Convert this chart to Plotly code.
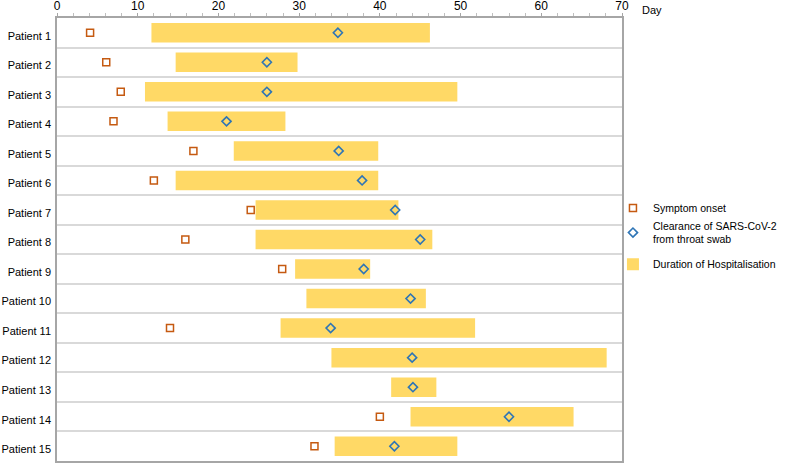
import plotly.graph_objects as go

patients = [f"Patient {i}" for i in range(1, 16)]
symptom_onset = [4.1, 6.1, 7.9, 7.0, 16.9, 12.0, 24.0, 15.9, 27.9, None, 14.0, None, None, 40.0, 31.9]
hosp_start = [11.7, 14.7, 10.9, 13.7, 21.9, 14.7, 24.6, 24.6, 29.5, 30.9, 27.7, 34.0, 41.4, 43.8, 34.4]
hosp_end = [46.2, 29.8, 49.6, 28.3, 39.8, 39.8, 42.3, 46.5, 38.8, 45.7, 51.8, 68.1, 47.0, 64.0, 49.6]
clearance = [34.8, 26.0, 26.0, 21.0, 34.9, 37.8, 41.9, 45.0, 38.0, 43.8, 33.9, 44.0, 44.1, 56.0, 41.8]

idx = list(range(len(patients)))
FONT = "Liberation Sans, Arial, sans-serif"

fig = go.Figure()
fig.add_trace(go.Bar(
    orientation="h", y=idx, base=hosp_start,
    x=[e - s for s, e in zip(hosp_start, hosp_end)],
    width=0.66, marker=dict(color="#FFD966", line=dict(width=0)),
    name="Duration of Hospitalisation", legendrank=3, legendgroup="b",
))
fig.add_trace(go.Scatter(
    x=symptom_onset, y=idx, mode="markers",
    marker=dict(symbol="square-open", size=7, color="#C55A11", line=dict(width=1.5)),
    name="Symptom onset", legendrank=1, legendgroup="a",
))
fig.add_trace(go.Scatter(
    x=clearance, y=idx, mode="markers",
    marker=dict(symbol="diamond-open", size=7, color="#2E75B6", line=dict(width=1.6)),
    name="Clearance of SARS-CoV-2<br>from throat swab", legendrank=2, legendgroup="a",
))

fig.update_layout(
    width=785, height=464,
    margin=dict(l=57, r=161, t=18, b=3),
    plot_bgcolor="white", paper_bgcolor="white",
    font=dict(family=FONT, size=11, color="#000000"),
    showlegend=True,
    legend=dict(
        x=0.984, y=0.604, xanchor="left", yanchor="top",
        font=dict(size=10.5, family=FONT), traceorder="grouped",
        tracegroupgap=7, bgcolor="rgba(0,0,0,0)",
    ),
)
fig.update_xaxes(
    side="top", range=[0, 70], tickvals=[0, 10, 20, 30, 40, 50, 60, 70],
    showgrid=False, zeroline=False, automargin=False,
    showline=True, linecolor="#A6A6A6", linewidth=1.5, mirror=True,
    ticks="outside", ticklen=3, tickcolor="#A6A6A6",
    minor=dict(dtick=2, ticks="outside", ticklen=3, tickcolor="#BFBFBF"),
    tickfont=dict(size=12, family=FONT), ticklabelstandoff=-2,
)
fig.update_yaxes(
    range=[14.5, -0.5], tickvals=idx, ticktext=patients,
    showgrid=False, zeroline=False, automargin=False,
    showline=True, linecolor="#A6A6A6", linewidth=1.5, mirror=True,
    ticks="", tickfont=dict(size=11, family=FONT),
    ticklabelstandoff=2, ticklabelshift=-3,
    minor=dict(tick0=0.5, dtick=1, showgrid=True, gridcolor="#D9D9D9", gridwidth=1.5),
)
fig.add_annotation(
    x=1.0, y=1.0, xref="paper", yref="paper", text="Day",
    showarrow=False, xanchor="left", yanchor="bottom", xshift=18, yshift=0,
    font=dict(size=11, family=FONT),
)

fig.write_html(
    "out.html",
    config={"displayModeBar": False},
    post_script="document.body.style.margin='0';",
)
